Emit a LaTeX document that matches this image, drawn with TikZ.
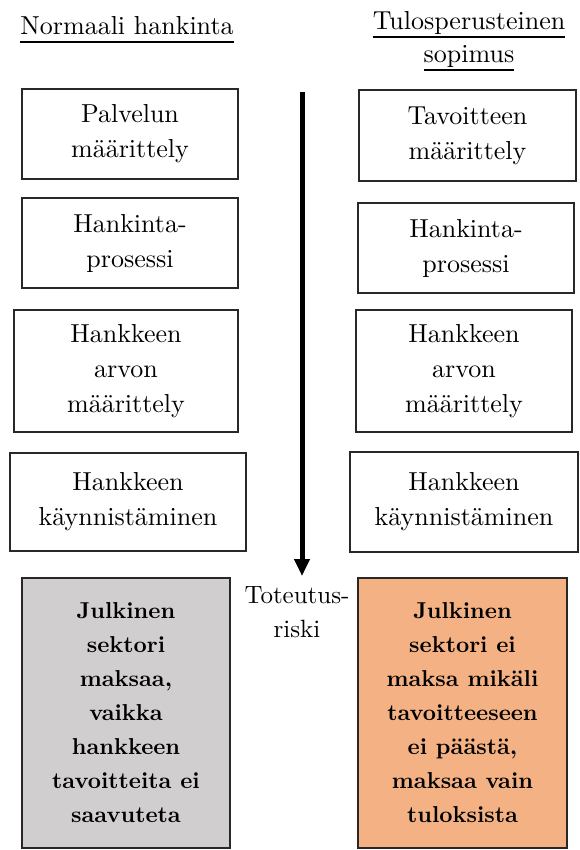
\documentclass[tikz,border=0pt]{standalone}
\usepackage{fontspec}
\setmainfont{lmroman10-regular.otf}[BoldFont=lmroman10-bold.otf]
\usetikzlibrary{arrows.meta}
\definecolor{boxline}{RGB}{40,40,40}
\definecolor{grayfill}{RGB}{208,206,206}
\definecolor{orangefill}{RGB}{244,177,131}
% heading underline at a fixed distance below the baseline
\newcommand\hdul[1]{\setbox0\hbox{#1}\rlap{\rule[-8pt]{\wd0}{1.8pt}}\box0}
\tikzset{
  x=1pt, y=-1pt,
  stepbox/.style={draw=boxline, line width=1.6pt, align=center, inner sep=0pt,
    font=\fontsize{26}{35}\selectfont},
  resultbox/.style={draw=boxline, line width=1.6pt, align=center, inner sep=0pt,
    font=\fontsize{23}{34}\selectfont\bfseries},
  header/.style={align=center, inner sep=0pt, font=\fontsize{26}{33}\selectfont},
  risklabel/.style={align=center, inner sep=0pt, font=\fontsize{25}{34}\selectfont},
}
\begin{document}
\begin{tikzpicture}
\useasboundingbox (0,0) rectangle (579,850);

% column headers
\node[header, anchor=base] (hl) at (127,35) {\hdul{Normaali hankinta}};
\node[header] (hr) at (469,41) {\hdul{Tulosperusteinen}\\\hdul{sopimus}};

% normal procurement steps
\node[stepbox, minimum width=216pt, minimum height=90pt] (l1) at (130,134) {Palvelun\\määrittely};
\node[stepbox, minimum width=216pt, minimum height=90pt] (l2) at (130,243) {Hankinta-\\prosessi};
\node[stepbox, minimum width=224pt, minimum height=122pt] (l3) at (126,371) {Hankkeen\\arvon\\määrittely};
\node[stepbox, minimum width=236pt, minimum height=98pt] (l4) at (128,502) {Hankkeen\\käynnistäminen};
\node[resultbox, fill=grayfill, minimum width=208pt, minimum height=270pt] (l5) at (126,713)
  {Julkinen\\sektori\\maksaa,\\vaikka\\hankkeen\\tavoitteita ei\\saavuteta};

% outcome-based contract steps
\node[stepbox, minimum width=217pt, minimum height=91pt] (r1) at (467.5,135.5) {Tavoitteen\\määrittely};
\node[stepbox, minimum width=216pt, minimum height=90pt] (r2) at (466,248) {Hankinta-\\prosessi};
\node[stepbox, minimum width=216pt, minimum height=122pt] (r3) at (464,371) {Hankkeen\\arvon\\määrittely};
\node[stepbox, minimum width=228pt, minimum height=100pt] (r4) at (464,502) {Hankkeen\\käynnistäminen};
\node[resultbox, fill=orangefill, minimum width=209pt, minimum height=270pt] (r5) at (462.5,713)
  {Julkinen\\sektori ei\\maksa mikäli\\tavoitteeseen\\ei päästä,\\maksaa vain\\tuloksista};

% time arrow and risk label
\coordinate (ta) at (302,92);
\coordinate (tb) at (302,576);
\draw[line width=5pt, -{Triangle[width=15pt,length=17pt]}] (ta) -- (tb);
\node[risklabel] (risk) at (297,612) {Toteutus-\\riski};
\end{tikzpicture}
\end{document}
